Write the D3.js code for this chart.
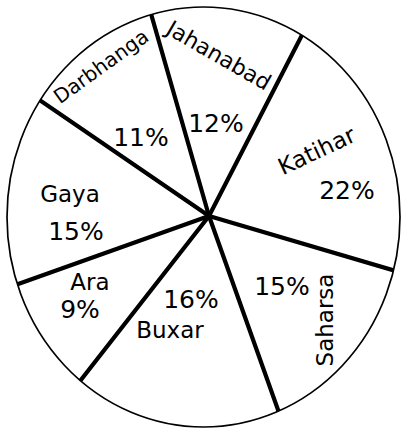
<!DOCTYPE html>
<html><head><meta charset="utf-8">
<script src="https://cdn.jsdelivr.net/npm/d3@7/dist/d3.min.js"></script>
<style>html,body{margin:0;padding:0;background:#fff;overflow:hidden}svg{display:block}</style>
</head><body>
<svg id="chart" width="403" height="430"></svg>
<script>
// ---- data ----
const districts = ["Jahanabad", "Katihar", "Saharsa", "Buxar", "Ara", "Gaya", "Darbhanga"];
const shares = [12, 22, 15, 16, 9, 15, 11];
const pctLabels = shares.map(v => v + "%");

// ---- layout (positions / styles only) ----
const W = 403, H = 430;
const hub = { x: 209, y: 216 };
const rim = { cx: 203.5, cy: 217, rx: 196.5, ry: 210 };
const startDeg = -16;
const nameLayout = [
  { x: 215, y: 62, rot: 30, size: 22 },
  { x: 320, y: 158, rot: -25, size: 23 },
  { x: 333, y: 320, rot: -90, size: 23 },
  { x: 170, y: 338, rot: 0, size: 23 },
  { x: 90, y: 290, rot: 0, size: 23 },
  { x: 70, y: 202, rot: 0, size: 23 },
  { x: 105, y: 72, rot: -35.8, size: 20 }
];
const pctLayout = [
  { x: 216, y: 132 },
  { x: 347, y: 199 },
  { x: 282, y: 295 },
  { x: 191, y: 308 },
  { x: 80, y: 318 },
  { x: 76, y: 240 },
  { x: 141, y: 146 }
];

const svg = d3.select("#chart");
svg.append("rect").attr("width", W).attr("height", H).attr("fill", "#fff");

svg.append("defs").append("clipPath").attr("id", "rimClip")
  .append("ellipse")
  .attr("cx", rim.cx).attr("cy", rim.cy).attr("rx", rim.rx).attr("ry", rim.ry);

const rad = Math.PI / 180;
const table = districts.map((name, i) => ({ name, value: shares[i], pct: pctLabels[i] }));
const pie = d3.pie().sort(null).value(d => d.value)
  .startAngle(startDeg * rad).endAngle((startDeg + 360) * rad);
const arcs = pie(table);

const R = 330;
const arc = d3.arc().innerRadius(0).outerRadius(R);

const g = svg.append("g").attr("clip-path", "url(#rimClip)")
  .append("g").attr("transform", `translate(${hub.x},${hub.y})`);

g.selectAll("path.slice").data(arcs).join("path")
  .attr("class", "slice")
  .attr("d", arc)
  .attr("fill", "#fff")
  .attr("stroke", "none");

g.selectAll("line.edge").data(arcs).join("line")
  .attr("class", "edge")
  .attr("x1", 0).attr("y1", 0)
  .attr("x2", d => R * Math.sin(d.startAngle))
  .attr("y2", d => -R * Math.cos(d.startAngle))
  .attr("stroke", "#000")
  .attr("stroke-width", 4.2)
  .attr("stroke-linecap", "round");

svg.append("ellipse")
  .attr("cx", rim.cx).attr("cy", rim.cy).attr("rx", rim.rx).attr("ry", rim.ry)
  .attr("fill", "none").attr("stroke", "#000").attr("stroke-width", 1.7);

const font = "'DejaVu Sans', Verdana, sans-serif";

svg.selectAll("text.name").data(arcs).join("text")
  .attr("class", "name")
  .attr("transform", (d, i) => `translate(${nameLayout[i].x},${nameLayout[i].y}) rotate(${nameLayout[i].rot})`)
  .attr("text-anchor", "middle")
  .attr("font-family", font)
  .attr("font-size", (d, i) => nameLayout[i].size)
  .attr("fill", "#000")
  .text(d => d.data.name);

svg.selectAll("text.pct").data(arcs).join("text")
  .attr("class", "pct")
  .attr("x", (d, i) => pctLayout[i].x)
  .attr("y", (d, i) => pctLayout[i].y)
  .attr("text-anchor", "middle")
  .attr("font-family", font)
  .attr("font-size", 25)
  .attr("fill", "#000")
  .text(d => d.data.pct);
</script>
</body></html>
